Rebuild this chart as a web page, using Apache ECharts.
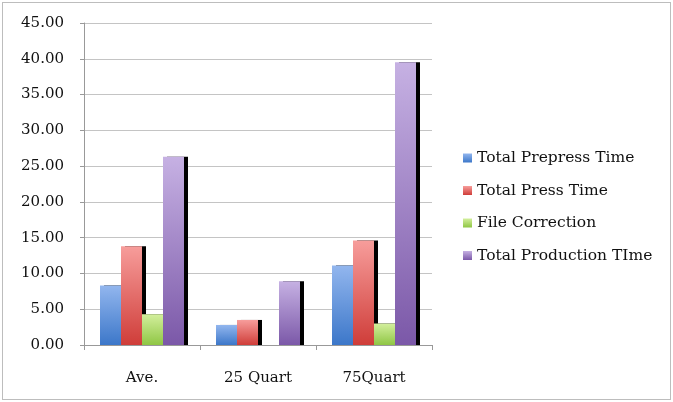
<!DOCTYPE html>
<html>
<head>
<meta charset="utf-8">
<script src="https://cdn.jsdelivr.net/npm/echarts@6/dist/echarts.min.js"></script>
<style>
  html, body { margin: 0; padding: 0; background: #fff; }
  #chart { position: absolute; left: 2px; top: 2px; width: 667px; height: 396px; border: 1px solid #bdbdbd; }
</style>
</head>
<body>
<div id="chart"></div>
<script>
var categories = ["Ave.", "25 Quart", "75Quart"];
var prepress = [8.3, 2.8, 11.1];
var press = [13.8, 3.5, 14.6];
var fileCorrection = [4.3, 0, 3.0];
var production = [26.3, 8.9, 39.5];

function grad(top, bottom) {
  return new echarts.graphic.LinearGradient(0, 0, 0, 1, [
    { offset: 0, color: top },
    { offset: 1, color: bottom }
  ]);
}

function barSeries(name, data, top, bottom) {
  return {
    name: name,
    type: "bar",
    data: data,
    barWidth: 21,
    barGap: "0%",
    itemStyle: {
      color: grad(top, bottom),
      shadowColor: "#000",
      shadowBlur: 0,
      shadowOffsetX: 4,
      shadowOffsetY: 0
    }
  };
}

var font = "DejaVu Serif";
var chart = echarts.init(document.getElementById("chart"));
chart.setOption({
  animation: false,
  textStyle: { fontFamily: font },
  grid: { left: 81, right: 238, top: 20, bottom: 54 },
  legend: {
    orient: "vertical",
    left: 455,
    top: 142,
    itemWidth: 9,
    itemHeight: 9,
    itemGap: 16.5,
    icon: "rect",
    textStyle: { fontFamily: font, fontSize: 15.5, color: "#111" },
    data: ["Total Prepress Time", "Total Press Time", "File Correction", "Total Production TIme"]
  },
  xAxis: {
    type: "category",
    data: categories,
    axisLine: { lineStyle: { color: "#999" } },
    axisTick: { show: true, length: 5, lineStyle: { color: "#999" } },
    axisLabel: { fontFamily: font, fontSize: 15, color: "#111", margin: 26 }
  },
  yAxis: {
    type: "value",
    min: 0,
    max: 45,
    interval: 5,
    axisLine: { show: true, lineStyle: { color: "#999" } },
    axisTick: { show: true, length: 4, lineStyle: { color: "#999" } },
    splitLine: { lineStyle: { color: "#c4c4c4" } },
    axisLabel: {
      fontFamily: font, fontSize: 15, color: "#111", margin: 20,
      formatter: function (v) { return v.toFixed(2); }
    }
  },
  series: [
    barSeries("Total Prepress Time", prepress, "#92b6ee", "#3c77c9"),
    barSeries("Total Press Time", press, "#f79d9b", "#cf3d39"),
    barSeries("File Correction", fileCorrection, "#d3ef9d", "#8fc644"),
    barSeries("Total Production TIme", production, "#c6b1e3", "#7b58a8")
  ]
});
</script>
</body>
</html>
